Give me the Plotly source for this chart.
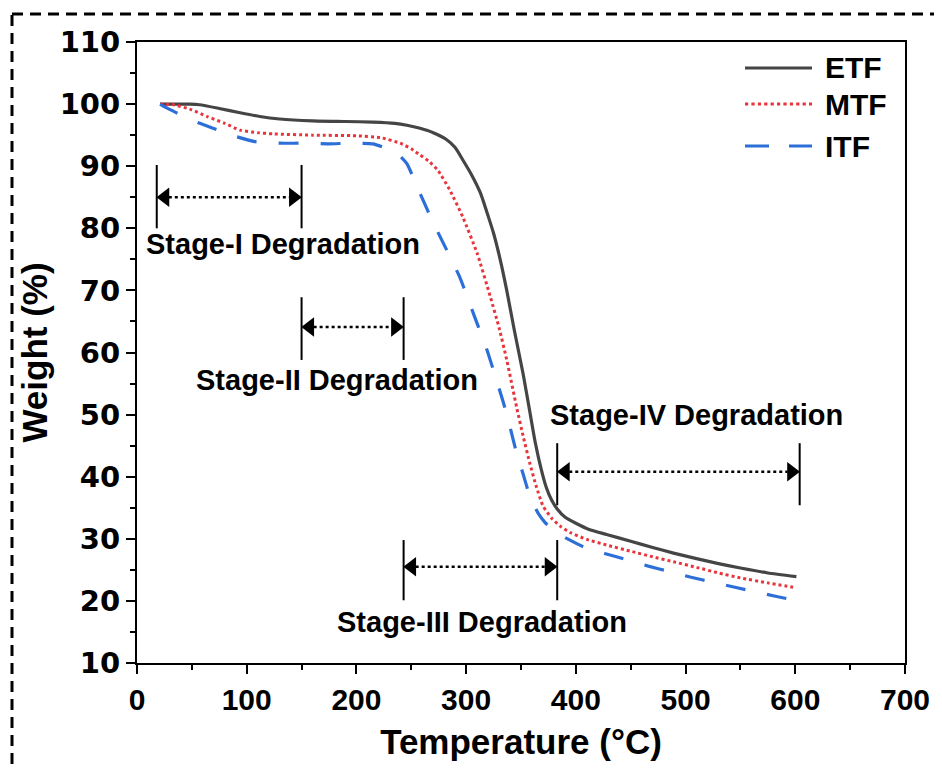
import plotly.graph_objects as go

# ---------------- data ----------------
etf_T = [21, 35, 48, 57, 75, 94, 112, 130, 160, 190, 215, 235, 246, 258, 270, 282, 290, 297, 305, 313, 320, 325, 331, 337, 344, 352, 358, 363, 368, 373, 378, 383, 390, 400, 412, 428, 450, 470, 489, 510, 530, 550, 575, 601]
etf_W = [100, 100, 100, 99.9, 99.3, 98.6, 98.0, 97.6, 97.3, 97.2, 97.1, 96.9, 96.6, 96.1, 95.4, 94.3, 93.0, 91.0, 88.6, 85.7, 82.0, 79.2, 75.0, 70.0, 63.5, 56.5, 50.5, 45.5, 41.5, 38.3, 36.2, 34.8, 33.5, 32.5, 31.5, 30.7, 29.6, 28.6, 27.7, 26.8, 26.0, 25.3, 24.5, 23.9]

mtf_T = [21, 33, 48, 64, 80, 94, 110, 124, 160, 200, 222, 240, 250, 258, 266, 274, 285, 297, 310, 322, 330, 337, 346, 352, 358, 364, 370, 378, 386, 395, 410, 428, 450, 470, 489, 510, 530, 550, 575, 598]
mtf_W = [100, 99.9, 99.2, 98.0, 96.9, 95.8, 95.4, 95.2, 95.0, 94.9, 94.6, 93.7, 92.8, 91.8, 90.8, 89.4, 86.2, 81.8, 76.0, 69.0, 64.0, 58.8, 51.2, 46.5, 42.2, 38.4, 35.3, 33.3, 32.0, 31.0, 29.9, 29.0, 28.0, 27.1, 26.3, 25.4, 24.5, 23.7, 22.9, 22.2]

itf_T = [21, 28, 36, 50, 68, 88, 109, 130, 151, 175, 194, 215, 231, 240, 246, 252, 260, 270, 282, 294, 303, 311, 319, 326, 334, 340, 346, 352, 358, 366, 372, 379, 386, 407, 427, 447, 466, 486, 505, 525, 545, 565, 583, 600]
itf_W = [100, 99.3, 98.6, 97.4, 96.2, 94.9, 93.9, 93.7, 93.7, 93.6, 93.7, 93.6, 92.6, 91.6, 90.4, 88.1, 84.8, 80.9, 76.6, 72.2, 68.0, 64.2, 60.4, 56.5, 51.9, 48.0, 43.8, 40.4, 36.9, 34.0, 32.6, 31.4, 30.6, 28.7, 27.6, 26.6, 25.6, 24.7, 23.8, 23.0, 22.2, 21.4, 20.7, 20.1]

x_ticks = [0, 100, 200, 300, 400, 500, 600, 700]
y_ticks = [10, 20, 30, 40, 50, 60, 70, 80, 90, 100, 110]

series_names = ["ETF", "MTF", "ITF"]

# stage brackets
stage_names = ["Stage-I Degradation", "Stage-II Degradation", "Stage-III Degradation", "Stage-IV Degradation"]
stage_left = [18, 150, 243, 383]
stage_right = [150, 243, 383, 604]
stage_bottom = [80.0, 58.8, 20.1, 35.4]
stage_top = [90.2, 68.9, 29.8, 45.4]
stage_arrow = [85.0, 64.1, 25.5, 40.8]
stage_label_T = [133, 182, 314, 510]
stage_label_W = [77.5, 55.6, 16.6, 50.0]

# ---------------- styling ----------------
C_ETF = "#454545"
C_MTF = "#e8353c"
C_ITF = "#2d6fd8"
FONT = "Liberation Sans, Arial"

fig = go.Figure()

fig.add_trace(go.Scatter(x=etf_T, y=etf_W, mode="lines", name="ETF",
                         line=dict(color=C_ETF, width=3.2, shape="spline", smoothing=0.5),
                         showlegend=False))
fig.add_trace(go.Scatter(x=mtf_T, y=mtf_W, mode="lines", name="MTF",
                         line=dict(color=C_MTF, width=3, dash="dot", shape="spline", smoothing=0.5),
                         showlegend=False))
fig.add_trace(go.Scatter(x=itf_T, y=itf_W, mode="lines", name="ITF",
                         line=dict(color=C_ITF, width=3.2, dash="20px,22px", shape="spline", smoothing=0.5),
                         showlegend=False))

shapes = []
annotations = []
arrow_x = []
arrow_y = []
arrow_sym = []
for i in range(len(stage_names)):
    for xv in (stage_left[i], stage_right[i]):
        shapes.append(dict(type="line", xref="x", yref="y", x0=xv, x1=xv,
                           y0=stage_bottom[i], y1=stage_top[i],
                           line=dict(color="black", width=2)))
    shapes.append(dict(type="line", xref="x", yref="y",
                       x0=stage_left[i] + 11, x1=stage_right[i] - 11,
                       y0=stage_arrow[i], y1=stage_arrow[i],
                       line=dict(color="black", width=2.5, dash="dot")))
    arrow_x += [stage_left[i] + 7.5, stage_right[i] - 7.5]
    arrow_y += [stage_arrow[i], stage_arrow[i]]
    arrow_sym += ["triangle-left", "triangle-right"]
    annotations.append(dict(x=stage_label_T[i], y=stage_label_W[i], xref="x", yref="y",
                            text=stage_names[i], showarrow=False,
                            font=dict(family=FONT, size=29, color="black", weight="bold")))

fig.add_trace(go.Scatter(x=arrow_x, y=arrow_y, mode="markers",
                         marker=dict(symbol=arrow_sym, size=17, color="black", line=dict(width=0)),
                         showlegend=False, hoverinfo="skip"))

# page-pixel -> paper helpers (plot area spans page px 137..905, 42..663)
def px2x(px):
    return (px - 137) / 768.0

def py2y(py):
    return (663 - py) / 621.0

leg_y = [68, 104, 146]
leg_col = [C_ETF, C_MTF, C_ITF]
leg_dash = ["solid", "dot", "24px,20px"]
for i, nm in enumerate(series_names):
    shapes.append(dict(type="line", xref="paper", yref="paper",
                       x0=px2x(745), x1=px2x(812), y0=py2y(leg_y[i]), y1=py2y(leg_y[i]),
                       line=dict(color=leg_col[i], width=3.2, dash=leg_dash[i])))
    annotations.append(dict(x=px2x(823), y=py2y(leg_y[i]), xref="paper", yref="paper",
                            xanchor="left", yanchor="middle", text=nm, showarrow=False,
                            font=dict(family=FONT, size=30, color="black", weight="bold")))

# dashed outer border
shapes.append(dict(type="rect", xref="paper", yref="paper",
                   x0=px2x(12), x1=px2x(960), y0=py2y(14), y1=py2y(800),
                   line=dict(color="black", width=3, dash="11px,7px"), layer="above"))

# page body has an 8px margin -> figure offset
fig.update_layout(
    width=934, height=763,
    margin=dict(l=129, r=37, t=34, b=108),
    paper_bgcolor="white", plot_bgcolor="white",
    shapes=shapes, annotations=annotations,
    showlegend=False,
)

fig.update_xaxes(range=[0, 700], tickvals=x_ticks, ticktext=[str(v) for v in x_ticks],
                 showgrid=False, zeroline=False, showline=True, linecolor="black", linewidth=2,
                 mirror=True, ticks="outside", ticklen=9, tickwidth=2, tickcolor="black",
                 minor=dict(dtick=50, ticks="outside", ticklen=5, tickwidth=2, tickcolor="black"),
                 tickfont=dict(family=FONT, size=30, color="black", weight="bold"),
                 title=dict(text="Temperature (°C)", standoff=14,
                            font=dict(family=FONT, size=35, color="black", weight="bold")))
fig.update_yaxes(range=[10, 110], tickvals=y_ticks, ticktext=[str(v) for v in y_ticks],
                 showgrid=False, zeroline=False, showline=True, linecolor="black", linewidth=2,
                 mirror=True, ticks="outside", ticklen=9, tickwidth=2, tickcolor="black",
                 minor=dict(dtick=5, ticks="outside", ticklen=5, tickwidth=2, tickcolor="black"),
                 tickfont=dict(family="DejaVu Sans", size=29, color="black", weight="bold"),
                 title=dict(text="Weight (%)", standoff=1,
                            font=dict(family=FONT, size=35, color="black", weight="bold")))

fig.write_html("out.html")
